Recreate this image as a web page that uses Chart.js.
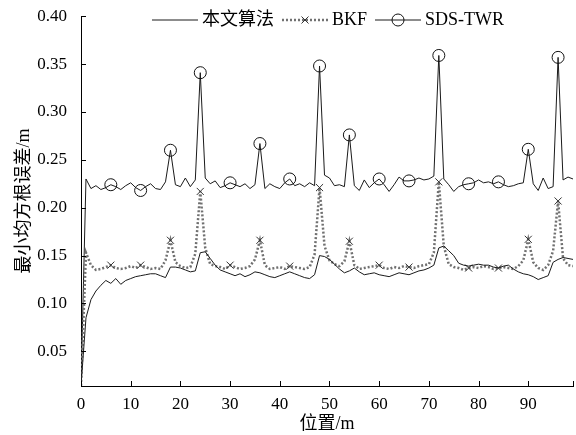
<!DOCTYPE html>
<html>
<head>
<meta charset="utf-8">
<script src="https://cdn.jsdelivr.net/npm/chart.js@4.4.1/dist/chart.umd.min.js"></script>
<style>
    html, body { margin: 0; padding: 0; background: #fff; }
    canvas { display: block; }
</style>
</head>
<body>
<canvas id="chart" width="576" height="435"></canvas>
<script>
// Position along the track (m), one sample per metre
const positions = Array.from({ length: 100 }, (_, i) => i);

// 本文算法
const proposed = [
    0.014, 0.085, 0.104, 0.113, 0.119, 0.124, 0.121, 0.126, 0.120, 0.124,
    0.126, 0.128, 0.129, 0.130, 0.131, 0.131, 0.129, 0.127, 0.138, 0.138,
    0.137, 0.135, 0.133, 0.134, 0.153, 0.154, 0.147, 0.140, 0.135, 0.133,
    0.131, 0.129, 0.131, 0.128, 0.130, 0.133, 0.132, 0.130, 0.128, 0.127,
    0.129, 0.131, 0.133, 0.131, 0.129, 0.127, 0.126, 0.130, 0.150, 0.149,
    0.146, 0.141, 0.136, 0.132, 0.134, 0.137, 0.133, 0.130, 0.131, 0.132,
    0.130, 0.129, 0.128, 0.130, 0.132, 0.131, 0.130, 0.132, 0.134, 0.135,
    0.137, 0.140, 0.158, 0.160, 0.155, 0.150, 0.142, 0.140, 0.139, 0.140,
    0.141, 0.140, 0.140, 0.138, 0.137, 0.139, 0.140, 0.136, 0.133, 0.131,
    0.130, 0.128, 0.125, 0.127, 0.129, 0.143, 0.146, 0.148, 0.147, 0.146,
];

// BKF
const bkf = [
    0.014, 0.153, 0.140, 0.135, 0.136, 0.138, 0.140, 0.137, 0.136, 0.137,
    0.139, 0.137, 0.140, 0.138, 0.136, 0.137, 0.136, 0.145, 0.166, 0.143,
    0.139, 0.137, 0.138, 0.152, 0.217, 0.158, 0.141, 0.139, 0.138, 0.136,
    0.140, 0.138, 0.136, 0.137, 0.139, 0.146, 0.166, 0.140, 0.136, 0.137,
    0.138, 0.136, 0.139, 0.138, 0.137, 0.136, 0.138, 0.151, 0.221, 0.160,
    0.145, 0.141, 0.139, 0.144, 0.165, 0.140, 0.136, 0.137, 0.138, 0.139,
    0.140, 0.137, 0.136, 0.138, 0.137, 0.139, 0.138, 0.137, 0.139, 0.140,
    0.141, 0.153, 0.227, 0.160, 0.141, 0.138, 0.137, 0.135, 0.137, 0.138,
    0.137, 0.139, 0.138, 0.136, 0.137, 0.138, 0.137, 0.136, 0.139, 0.145,
    0.167, 0.143, 0.137, 0.135, 0.140, 0.155, 0.207, 0.147, 0.140, 0.139,
];

// SDS-TWR
const sdsTwr = [
    0.014, 0.230, 0.220, 0.223, 0.219, 0.221, 0.224, 0.222, 0.219, 0.223,
    0.226, 0.221, 0.218, 0.222, 0.225, 0.220, 0.219, 0.227, 0.260, 0.224,
    0.222, 0.231, 0.222, 0.229, 0.341, 0.231, 0.225, 0.228, 0.221, 0.223,
    0.226, 0.224, 0.222, 0.225, 0.220, 0.224, 0.267, 0.220, 0.225, 0.222,
    0.220, 0.226, 0.230, 0.223, 0.225, 0.222, 0.226, 0.223, 0.348, 0.234,
    0.231, 0.223, 0.224, 0.222, 0.276, 0.223, 0.218, 0.229, 0.221, 0.226,
    0.230, 0.224, 0.217, 0.224, 0.232, 0.228, 0.228, 0.229, 0.231, 0.229,
    0.230, 0.233, 0.359, 0.230, 0.224, 0.217, 0.222, 0.224, 0.225, 0.226,
    0.229, 0.226, 0.227, 0.225, 0.227, 0.224, 0.222, 0.223, 0.225, 0.226,
    0.261, 0.225, 0.218, 0.231, 0.220, 0.222, 0.357, 0.229, 0.232, 0.230,
];

const xTicks = [0, 10, 20, 30, 40, 50, 60, 70, 80, 90];
const yTicks = [0.05, 0.10, 0.15, 0.20, 0.25, 0.30, 0.35, 0.40];

const FONT = '"Liberation Serif", "Noto Sans CJK SC", serif';
const MARK_EVERY = 6;

const markerRadius = (r) => (ctx) =>
    (ctx.dataIndex > 0 && ctx.dataIndex % MARK_EVERY === 0) ? r : 0;

const toPoints = (ys) => positions.map((x, i) => ({ x, y: ys[i] }));

const datasets = [
    {
        label: '本文算法',
        data: toPoints(proposed),
        borderColor: '#1a1a1a',
        borderWidth: 1,
        pointRadius: 0,
    },
    {
        label: 'BKF',
        data: toPoints(bkf),
        borderColor: '#707070',
        borderWidth: 2.5,
        borderDash: [2, 2],
        pointStyle: 'crossRot',
        pointRadius: markerRadius(5),
        pointBorderColor: '#333',
        pointBorderWidth: 1,
    },
    {
        label: 'SDS-TWR',
        data: toPoints(sdsTwr),
        borderColor: '#1a1a1a',
        borderWidth: 1,
        pointStyle: 'circle',
        pointRadius: markerRadius(6),
        pointBorderColor: '#111',
        pointBackgroundColor: 'rgba(0,0,0,0)',
        pointBorderWidth: 1,
    },
];

// Inward tick marks, MATLAB style
const inwardTicks = {
    id: 'inwardTicks',
    afterDraw(chart) {
        const { ctx, chartArea, scales } = chart;
        const len = 5;
        ctx.save();
        ctx.strokeStyle = '#000';
        ctx.lineWidth = 1;
        ctx.beginPath();
        yTicks.forEach(v => {
            const y = Math.round(scales.y.getPixelForValue(v)) + 0.5;
            ctx.moveTo(chartArea.left, y);
            ctx.lineTo(chartArea.left + len, y);
        });
        [...xTicks, scales.x.max].forEach(v => {
            const x = Math.round(scales.x.getPixelForValue(v)) + 0.5;
            ctx.moveTo(x, chartArea.bottom);
            ctx.lineTo(x, chartArea.bottom - len);
        });
        ctx.stroke();
        ctx.restore();
    }
};

// Legend drawn as line samples with markers, no box
const lineLegend = {
    id: 'lineLegend',
    afterDraw(chart) {
        const { ctx, chartArea } = chart;
        const sample = 46, gap = 4, spacing = 8, y = 20;
        ctx.save();
        ctx.font = '18px ' + FONT;
        ctx.textBaseline = 'middle';
        const widths = chart.data.datasets.map(ds => sample + gap + ctx.measureText(ds.label).width);
        const total = widths.reduce((a, b) => a + b, 0) + spacing * (widths.length - 1);
        let x = (chartArea.left + chartArea.right) / 2 + 1 - total / 2;
        chart.data.datasets.forEach((ds, i) => {
            const cx = x + sample / 2;
            ctx.strokeStyle = ds.borderColor;
            ctx.lineWidth = ds.borderWidth;
            ctx.setLineDash(ds.borderDash || []);
            ctx.beginPath();
            ctx.moveTo(x, y);
            ctx.lineTo(x + sample, y);
            ctx.stroke();
            ctx.setLineDash([]);
            if (ds.pointStyle) {
                ctx.strokeStyle = ds.pointBorderColor;
                ctx.lineWidth = 1;
                ctx.beginPath();
                if (ds.pointStyle === 'circle') {
                    ctx.arc(cx, y, 6, 0, Math.PI * 2);
                } else {
                    ctx.moveTo(cx - 3.5, y - 3.5);
                    ctx.lineTo(cx + 3.5, y + 3.5);
                    ctx.moveTo(cx + 3.5, y - 3.5);
                    ctx.lineTo(cx - 3.5, y + 3.5);
                }
                ctx.stroke();
            }
            ctx.fillStyle = '#000';
            ctx.textAlign = 'left';
            ctx.fillText(ds.label, x + sample + gap, y);
            x += widths[i] + spacing;
        });
        ctx.restore();
    }
};

const tickFont = { family: FONT, size: 17 };

new Chart(document.getElementById('chart'), {
    type: 'line',
    data: { datasets },
    options: {
        responsive: false,
        animation: false,
        devicePixelRatio: 1,
        layout: { padding: { top: 13, right: 3, left: 0, bottom: 0 } },
        elements: { line: { tension: 0 } },
        plugins: {
            legend: { display: false },
            tooltip: { enabled: false },
        },
        scales: {
            x: {
                type: 'linear',
                min: 0,
                max: 99,
                grid: { display: false },
                border: { display: true, color: '#000', width: 1 },
                ticks: { color: '#000', font: tickFont, padding: 0, maxRotation: 0, autoSkip: false },
                afterBuildTicks: (s) => { s.ticks = xTicks.map(v => ({ value: v })); },
                afterFit: (s) => { s.height = 49; },
                title: {
                    display: true,
                    text: '位置/m',
                    color: '#000',
                    font: { family: FONT, size: 18 },
                    padding: { top: 0, bottom: 0 },
                },
            },
            y: {
                type: 'linear',
                min: 0.0138,
                max: 0.40,
                grid: { display: false },
                border: { display: true, color: '#000', width: 1 },
                ticks: {
                    color: '#000',
                    font: tickFont,
                    padding: 6,
                    callback: (v) => v.toFixed(2),
                },
                afterBuildTicks: (s) => { s.ticks = yTicks.map(v => ({ value: v })); },
                afterFit: (s) => { s.width = 81; },
                title: {
                    display: true,
                    text: '最小均方根误差/m',
                    color: '#000',
                    font: { family: FONT, size: 18 },
                    padding: { top: 13, bottom: 0 },
                },
            },
        },
    },
    plugins: [inwardTicks, lineLegend],
});
</script>
</body>
</html>
